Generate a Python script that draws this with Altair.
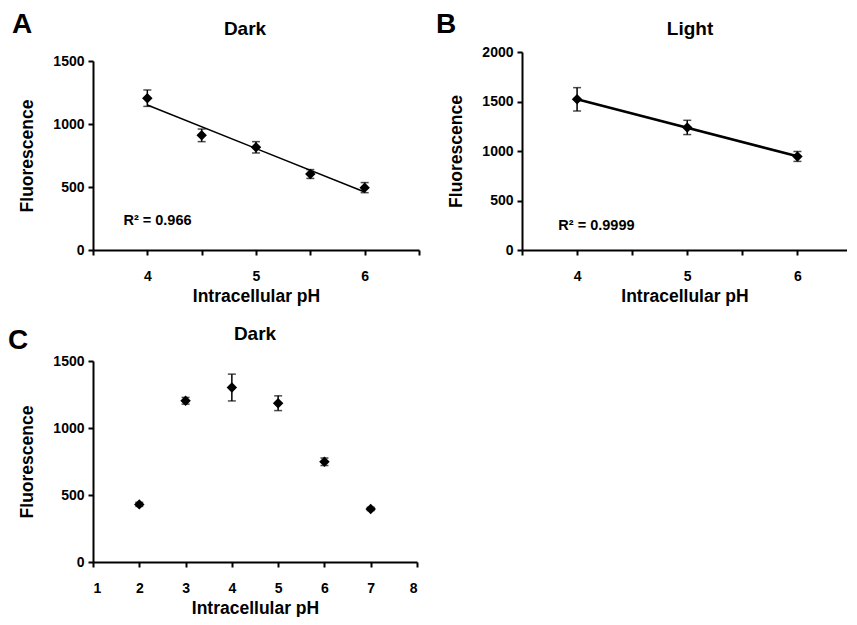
import altair as alt
import pandas as pd

# ---- data ----
A_ph = [4, 4.5, 5, 5.5, 6]
A_fl = [1205, 910, 815, 603, 495]
A_err = [65, 50, 45, 35, 40]

B_ph = [4, 5, 6]
B_fl = [1522, 1238, 945]
B_err = [118, 72, 50]

C_ph = [2, 3, 4, 5, 6, 7]
C_fl = [430, 1203, 1302, 1185, 748, 396]
C_err = [15, 25, 100, 55, 28, 12]

FONT = "Liberation Sans"


def frame(ph, fl, err):
    return pd.DataFrame({"ph": ph, "fl": fl, "err": err})


def label(text, xy, size, align="left", xdatum=False):
    ch = alt.Chart(pd.DataFrame({"t": [text]})).mark_text(
        align=align, baseline="alphabetic", font=FONT, fontWeight="bold",
        fontSize=size, color="black")
    if xdatum:
        return ch.encode(text="t:N", x=alt.datum(xy[0]), y=alt.datum(xy[1]))
    return ch.encode(text="t:N", x=alt.value(xy[0]), y=alt.value(xy[1]))


def panel(df, letter, title, xdomain, xvalues, ydomain, yvalues, width, height,
          yrange, letter_xy, title_xy, reg=None, r2=None, r2_xy=None):
    base = alt.Chart(df)
    x = alt.X("ph:Q", scale=alt.Scale(domain=xdomain, nice=False, zero=False),
              axis=alt.Axis(values=xvalues, title="Intracellular pH",
                            labelExpr="datum.value % 1 == 0 ? format(datum.value, 'd') : ''"))
    yscale = alt.Scale(domain=ydomain, nice=False, range=yrange)
    y = alt.Y("fl:Q", scale=yscale,
              axis=alt.Axis(values=yvalues, title="Fluorescence", format="d"))
    layers = []
    if reg is not None:
        layers.append(
            base.transform_regression("ph", "fl").mark_line(color="black", strokeWidth=reg)
            .encode(x=x, y=y)
        )
    err = base.transform_calculate(lo="datum.fl - datum.err", hi="datum.fl + datum.err")
    layers.append(
        err.mark_errorbar(ticks=True, color="black", thickness=1.5, size=8)
        .encode(x=x, y=alt.Y("lo:Q", scale=yscale, title="Fluorescence"), y2="hi:Q")
    )
    layers.append(
        base.mark_point(shape="diamond", filled=True, color="black", size=110, opacity=1)
        .encode(x=x, y=y)
    )
    if r2 is not None:
        layers.append(label(r2, r2_xy, 14.5, xdatum=True))
    layers.append(label(letter, letter_xy, 28))
    layers.append(label(title, title_xy, 19, align="center"))
    return alt.layer(*layers).properties(width=width, height=height)


A = panel(frame(A_ph, A_fl, A_err), "A", "Dark", [3.5, 6.5],
          [3.5, 4, 4.5, 5, 5.5, 6, 6.5], [0, 1500], [0, 500, 1000, 1500],
          326, 198, [198, 9], (-81, -19), (152, -17),
          reg=1.5, r2="R² = 0.966", r2_xy=(3.78, 200))
B = panel(frame(B_ph, B_fl, B_err), "B", "Light", [3.5, 6.45],
          [3.5, 4, 4.5, 5, 5.5, 6], [0, 2000], [0, 500, 1000, 1500, 2000],
          325, 198, [198, 0], (-86, -19), (168, -17),
          reg=2.5, r2="R² = 0.9999", r2_xy=(3.83, 205))
C = panel(frame(C_ph, C_fl, C_err), "C", "Dark", [1, 8],
          [1, 2, 3, 4, 5, 6, 7, 8], [0, 1500], [0, 500, 1000, 1500],
          324, 201, [201, 0], (-85, -12), (162, -21))

top = alt.hconcat(A, B, spacing=16)
chart = alt.vconcat(top, C, spacing=20).properties(
    padding={"top": 3, "left": 0, "right": 0, "bottom": 0}
).configure_view(
    stroke=None
).configure_axis(
    grid=False,
    domainColor="black", domainWidth=2,
    tickColor="black", tickWidth=2, tickSize=5,
    labelFont=FONT, labelFontSize=14, labelFontWeight="bold", labelColor="black",
    titleFont=FONT, titleFontSize=17.5, titleFontWeight="bold", titleColor="black",
).configure_axisY(
    labelPadding=4, titlePadding=16,
).configure_axisX(
    labelPadding=14, titlePadding=4,
)

chart.save("out.html", embed_options={"renderer": "svg", "actions": False})
